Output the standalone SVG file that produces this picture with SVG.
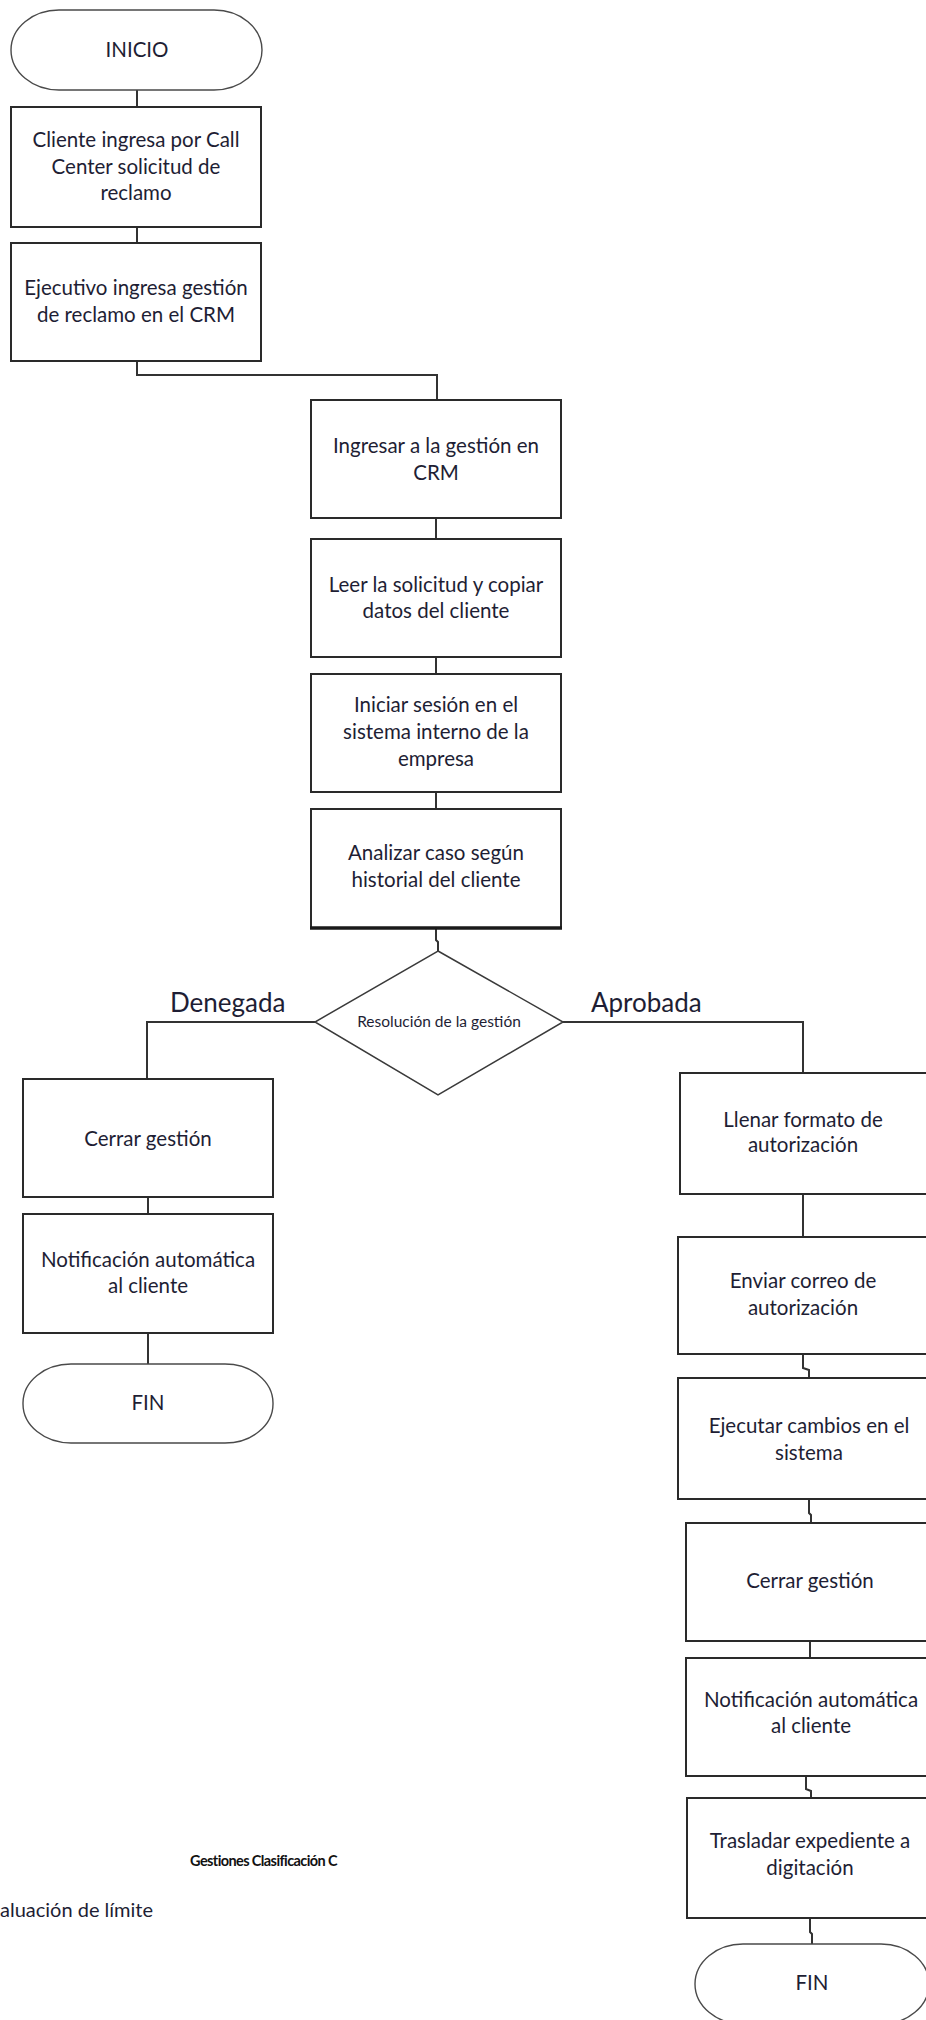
<svg xmlns="http://www.w3.org/2000/svg" width="926" height="2020" viewBox="0 0 926 2020">
  <style>
    .box { fill: #ffffff; stroke: #2a2a2a; stroke-width: 2; }
    .term { fill: #ffffff; stroke: #4a4a4a; stroke-width: 1.4; }
    .dec { fill: #ffffff; stroke: #3a3a3a; stroke-width: 1.5; }
    .conn { fill: none; stroke: #333333; stroke-width: 2; }
    .t { font-family: Lato, "Open Sans", sans-serif; font-size: 20.5px; fill: #1e1e34; text-anchor: middle; }
    .small { font-family: Lato, "Open Sans", sans-serif; font-size: 15.5px; fill: #1e1e34; text-anchor: middle; }
    .lbl { font-family: Lato, "Open Sans", sans-serif; font-size: 26px; fill: #1e1e34; }
    .title { font-family: Lato, "Open Sans", sans-serif; font-size: 14.5px; font-weight: bold; letter-spacing: -0.6px; fill: #111111; text-anchor: end; }
    .note { font-family: Lato, "Open Sans", sans-serif; font-size: 20px; fill: #1e1e34; text-anchor: start; }
  </style>
  <rect width="926" height="2020" fill="#ffffff"/>

  <!-- connectors -->
  <g id="connectors">
    <path class="conn" d="M137 90 V107"/>
    <path class="conn" d="M137 227 V243"/>
    <path class="conn" d="M137 361 V375 H437 V400"/>
    <path class="conn" d="M436 518 V539"/>
    <path class="conn" d="M436 657 V674"/>
    <path class="conn" d="M436 792 V809"/>
    <path class="conn" d="M436 928 V940 L438 942 V951"/>
    <path class="conn" d="M315 1022 H147 V1079"/>
    <path class="conn" d="M148 1197 V1214"/>
    <path class="conn" d="M148 1333 V1364"/>
    <path class="conn" d="M563 1022 H803 V1073"/>
    <path class="conn" d="M803 1194 V1237"/>
    <path class="conn" d="M803 1354 V1368 L809 1370 V1378"/>
    <path class="conn" d="M809 1499 V1513 L811 1515 V1523"/>
    <path class="conn" d="M810 1641 V1658"/>
    <path class="conn" d="M806 1776 V1789 L811 1791 V1798"/>
    <path class="conn" d="M810 1918 V1932 L812 1934 V1944"/>
  </g>

  <!-- main column -->
  <g id="inicio">
    <rect class="term" x="11" y="10" width="251" height="80" rx="48" ry="40"/>
    <text class="t" x="137" y="57">INICIO</text>
  </g>
  <g id="cliente-ingresa">
    <rect class="box" x="11" y="107" width="250" height="120"/>
    <text class="t" x="136" y="147">Cliente ingresa por Call</text>
    <text class="t" x="136" y="174">Center solicitud de</text>
    <text class="t" x="136" y="200">reclamo</text>
  </g>
  <g id="ejecutivo-ingresa">
    <rect class="box" x="11" y="243" width="250" height="118"/>
    <text class="t" x="136" y="295">Ejecutivo ingresa gestión</text>
    <text class="t" x="136" y="322">de reclamo en el CRM</text>
  </g>
  <g id="ingresar-crm">
    <rect class="box" x="311" y="400" width="250" height="118"/>
    <text class="t" x="436" y="453">Ingresar a la gestión en</text>
    <text class="t" x="436" y="480">CRM</text>
  </g>
  <g id="leer-solicitud">
    <rect class="box" x="311" y="539" width="250" height="118"/>
    <text class="t" x="436" y="592">Leer la solicitud y copiar</text>
    <text class="t" x="436" y="618">datos del cliente</text>
  </g>
  <g id="iniciar-sesion">
    <rect class="box" x="311" y="674" width="250" height="118"/>
    <text class="t" x="436" y="712">Iniciar sesión en el</text>
    <text class="t" x="436" y="739">sistema interno de la</text>
    <text class="t" x="436" y="766">empresa</text>
  </g>
  <g id="analizar-caso">
    <rect class="box" x="311" y="809" width="250" height="119"/>
    <line x1="310" y1="928" x2="562" y2="928" stroke="#1a1a1a" stroke-width="3.5"/>
    <text class="t" x="436" y="860">Analizar caso según</text>
    <text class="t" x="436" y="887">historial del cliente</text>
  </g>
  <g id="resolucion">
    <polygon class="dec" points="438,951 563,1022 438,1095 315,1022"/>
    <text class="small" x="439" y="1027">Resolución de la gestión</text>
  </g>
  <g id="etiquetas">
    <text class="lbl" x="170" y="1012">Denegada</text>
    <text class="lbl" x="591" y="1012">Aprobada</text>
  </g>

  <!-- denied branch -->
  <g id="cerrar-gestion-d">
    <rect class="box" x="23" y="1079" width="250" height="118"/>
    <text class="t" x="148" y="1146">Cerrar gestión</text>
  </g>
  <g id="notificacion-d">
    <rect class="box" x="23" y="1214" width="250" height="119"/>
    <text class="t" x="148" y="1267">Notificación automática</text>
    <text class="t" x="148" y="1293">al cliente</text>
  </g>
  <g id="fin-d">
    <rect class="term" x="23" y="1364" width="250" height="79" rx="48" ry="39"/>
    <text class="t" x="148" y="1410">FIN</text>
  </g>

  <!-- approved branch -->
  <g id="llenar-formato">
    <rect class="box" x="680" y="1073" width="256" height="121"/>
    <text class="t" x="803" y="1127">Llenar formato de</text>
    <text class="t" x="803" y="1152">autorización</text>
  </g>
  <g id="enviar-correo">
    <rect class="box" x="678" y="1237" width="258" height="117"/>
    <text class="t" x="803" y="1288">Enviar correo de</text>
    <text class="t" x="803" y="1315">autorización</text>
  </g>
  <g id="ejecutar-cambios">
    <rect class="box" x="678" y="1378" width="258" height="121"/>
    <text class="t" x="809" y="1433">Ejecutar cambios en el</text>
    <text class="t" x="809" y="1460">sistema</text>
  </g>
  <g id="cerrar-gestion-a">
    <rect class="box" x="686" y="1523" width="250" height="118"/>
    <text class="t" x="810" y="1588">Cerrar gestión</text>
  </g>
  <g id="notificacion-a">
    <rect class="box" x="686" y="1658" width="250" height="118"/>
    <text class="t" x="811" y="1707">Notificación automática</text>
    <text class="t" x="811" y="1733">al cliente</text>
  </g>
  <g id="trasladar-expediente">
    <rect class="box" x="687" y="1798" width="250" height="120"/>
    <text class="t" x="810" y="1848">Trasladar expediente a</text>
    <text class="t" x="810" y="1875">digitación</text>
  </g>
  <g id="fin-a">
    <rect class="term" x="695" y="1944" width="234" height="80" rx="48" ry="40"/>
    <text class="t" x="812" y="1990">FIN</text>
  </g>

  <!-- page text below the chart -->
  <text class="title" x="337" y="1866">Gestiones Clasificación C</text>
  <text class="note" x="0" y="1917">aluación de límite</text>
</svg>
